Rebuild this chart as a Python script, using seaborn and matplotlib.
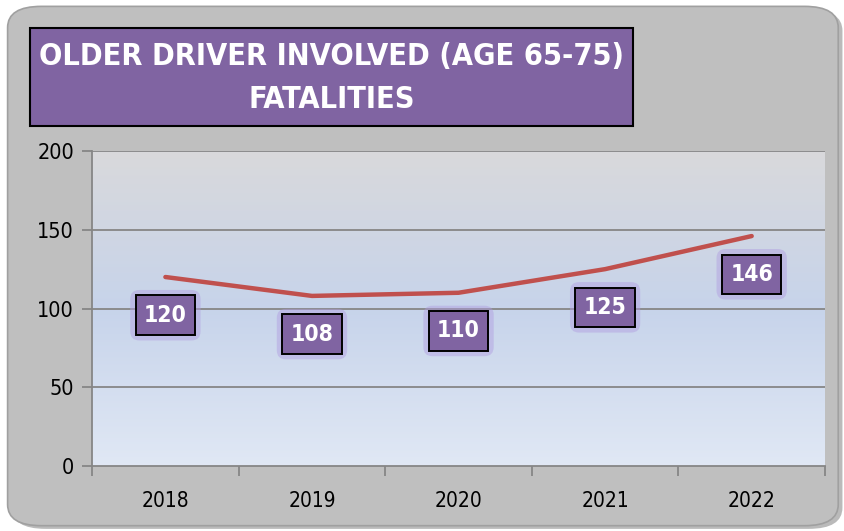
import matplotlib
matplotlib.use("Agg")
import matplotlib.pyplot as plt
import numpy as np
import pandas as pd
import seaborn as sns
from matplotlib.patches import FancyBboxPatch, Rectangle

years = ["2018", "2019", "2020", "2021", "2022"]
fatalities = [120, 108, 110, 125, 146]
y_ticks = [0, 50, 100, 150, 200]
title_lines = ["OLDER DRIVER INVOLVED (AGE 65-75)", "FATALITIES"]

df = pd.DataFrame({"Year": years, "Fatalities": fatalities})
df["pos"] = range(len(years))

sns.set_style("white")
plt.rcParams["font.family"] = ["DejaVu Sans"]
plt.rcParams["font.stretch"] = "condensed"

fig = plt.figure(figsize=(8.45, 5.31), dpi=100)
fig.patch.set_facecolor("white")

# rounded grey chart panel with a soft shadow
shadow = FancyBboxPatch((0.014, 0.004), 0.983, 0.978, boxstyle="round,pad=0,rounding_size=0.04",
                        transform=fig.transFigure, facecolor="#8c8c8c", edgecolor="none",
                        alpha=0.6, zorder=-3)
panel = FancyBboxPatch((0.009, 0.010), 0.983, 0.978, boxstyle="round,pad=0,rounding_size=0.04",
                       transform=fig.transFigure, facecolor="#bfbfbf", edgecolor="#a0a0a0",
                       linewidth=1.2, zorder=-2)
fig.patches.extend([shadow, panel])

ax = fig.add_axes([0.109, 0.1224, 0.8673, 0.5932])
ax.set_facecolor("none")

# gradient plot area (grey at top, light blue below)
top = np.array([0.85, 0.85, 0.86])
mid = np.array([0.78, 0.83, 0.92])
bot = np.array([0.88, 0.91, 0.96])
t = np.linspace(0, 1, 256)[:, None]
grad = np.where(t < 0.5, top + (mid - top) * (t / 0.5), mid + (bot - mid) * ((t - 0.5) / 0.5))
grad = np.repeat(grad[:, None, :], 2, axis=1)
ax.imshow(grad, extent=[-0.5, 4.5, 0, 200], aspect="auto", origin="upper", zorder=0)

for v in y_ticks[1:]:
    ax.axhline(v, color="#868686", linewidth=1.3, zorder=1)

sns.lineplot(data=df, x="pos", y="Fatalities", color="#c0504d", linewidth=3.2, ax=ax, zorder=3)

for i, v in enumerate(fatalities):
    # glow behind label
    ax.annotate(str(v), (i, v), xytext=(0, -27.5), textcoords="offset points",
                ha="center", va="center", fontsize=16.5, fontweight="bold", color=(0, 0, 0, 0),
                bbox=dict(boxstyle="round,pad=0.6,rounding_size=0.4", facecolor="#b09ce0",
                          edgecolor="none", alpha=0.45), zorder=4)
    ax.annotate(str(v), (i, v), xytext=(0, -27.5), textcoords="offset points",
                ha="center", va="center", fontsize=16.5, fontweight="bold", color="white",
                bbox=dict(boxstyle="square,pad=0.36", facecolor="#8064a2",
                          edgecolor="black", linewidth=1.4), zorder=5)

ax.set_xlim(-0.5, 4.5)
ax.set_ylim(0, 200)
ax.set_yticks(y_ticks)
ax.set_xticks(range(len(years)))
ax.set_xticklabels(years)
ax.set_xticks(np.arange(-0.5, 5.0, 1.0), minor=True)
ax.tick_params(axis="x", which="major", bottom=True, length=0, pad=18, labelsize=15,
               labelcolor="black")
ax.tick_params(axis="x", which="minor", bottom=True, length=7, color="#868686", width=1.3,
               direction="out")
ax.tick_params(axis="y", left=True, length=7, color="#868686", width=1.3, direction="out",
               labelsize=15.5, pad=6, labelcolor="black")
ax.set_xlabel("")
ax.set_ylabel("")
for s in ["top", "right"]:
    ax.spines[s].set_visible(False)
for s in ["left", "bottom"]:
    ax.spines[s].set_color("#868686")
    ax.spines[s].set_linewidth(1.3)

# title box
title_box = Rectangle((0.036, 0.762), 0.713, 0.185, transform=fig.transFigure,
                      facecolor="#8064a2", edgecolor="black", linewidth=1.5, zorder=2)
fig.patches.append(title_box)
fig.text(0.3925, 0.893, title_lines[0], ha="center", va="center", fontsize=22,
         fontweight="bold", color="white", zorder=3)
fig.text(0.3925, 0.812, title_lines[1], ha="center", va="center", fontsize=22,
         fontweight="bold", color="white", zorder=3)

fig.savefig("out.png", dpi=100)
